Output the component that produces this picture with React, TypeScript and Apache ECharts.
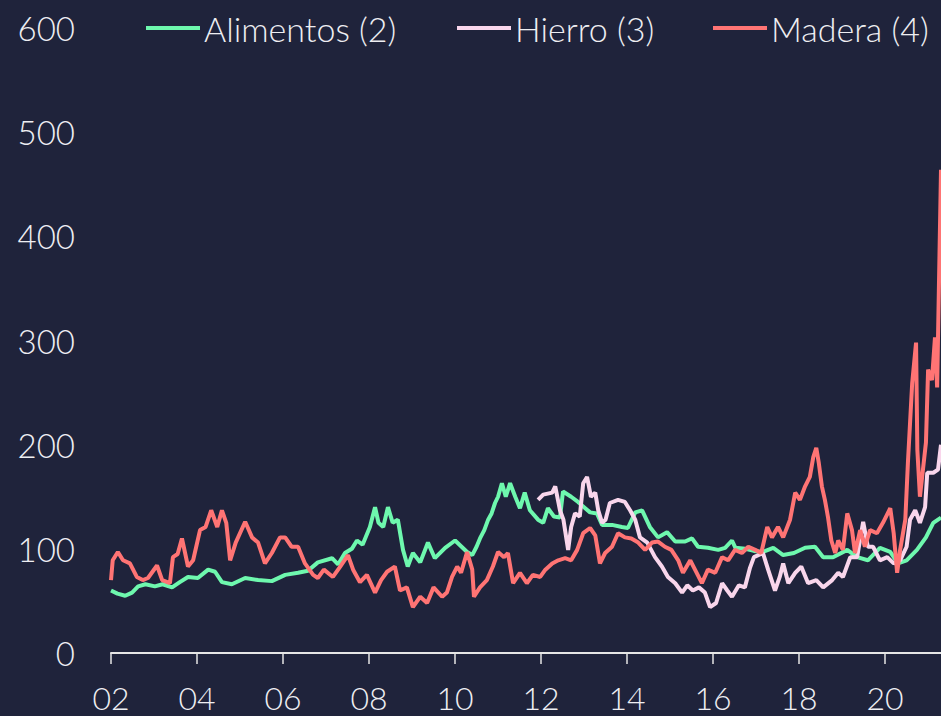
import React, { useEffect, useRef } from "react";
import * as echarts from "echarts";

const yearTicks = [2002, 2004, 2006, 2008, 2010, 2012, 2014, 2016, 2018, 2020];
const seriesNames = ["Alimentos (2)", "Hierro (3)", "Madera (4)"];

const alimentos: [number, number][] = [
  [2002.0, 60], [2002.15, 57], [2002.33, 55], [2002.49, 58], [2002.63, 64], [2002.8, 66], [2003.02, 64],
  [2003.2, 66], [2003.42, 63], [2003.6, 68], [2003.79, 73], [2004.02, 72], [2004.26, 80], [2004.42, 78],
  [2004.58, 68], [2004.81, 66], [2005.12, 72], [2005.42, 70], [2005.74, 69], [2006.05, 75], [2006.35, 77],
  [2006.58, 79], [2006.81, 87], [2007.14, 91], [2007.28, 85], [2007.44, 96], [2007.6, 100], [2007.72, 108], [2007.85, 104],
  [2008.02, 121], [2008.14, 140], [2008.22, 125], [2008.33, 121], [2008.44, 140], [2008.55, 125],
  [2008.67, 128], [2008.79, 99], [2008.9, 83], [2009.02, 96], [2009.19, 87], [2009.37, 106], [2009.53, 91],
  [2009.77, 101], [2010.0, 108], [2010.28, 97], [2010.4, 94], [2010.5, 102], [2010.58, 110], [2010.68, 118],
  [2010.77, 128], [2010.85, 134], [2010.93, 144], [2011.0, 150],
  [2011.09, 163], [2011.18, 150], [2011.28, 163], [2011.4, 150], [2011.51, 139], [2011.62, 154],
  [2011.74, 137], [2011.93, 128], [2012.05, 125], [2012.16, 139], [2012.3, 131], [2012.44, 130],
  [2012.51, 155], [2012.7, 150], [2012.86, 145], [2013.0, 140], [2013.14, 135], [2013.3, 134],
  [2013.42, 123], [2013.65, 123], [2013.88, 121], [2014.02, 120], [2014.19, 135], [2014.35, 137],
  [2014.53, 121], [2014.72, 111], [2014.93, 116], [2015.12, 107], [2015.35, 107], [2015.51, 110],
  [2015.65, 102], [2015.88, 101], [2016.12, 99], [2016.28, 101], [2016.44, 108], [2016.52, 101],
  [2016.75, 100], [2016.95, 98], [2017.16, 97], [2017.4, 101], [2017.63, 94], [2017.88, 96], [2018.14, 101],
  [2018.37, 102], [2018.56, 92], [2018.79, 92], [2019.12, 99], [2019.35, 92], [2019.6, 89], [2019.88, 101],
  [2020.12, 97], [2020.3, 86], [2020.5, 89], [2020.74, 99], [2020.95, 111], [2021.12, 125], [2021.3, 130],
];

const hierro: [number, number][] = [
  [2011.93, 147], [2012.05, 152], [2012.26, 154], [2012.33, 160], [2012.44, 137], [2012.52, 128],
  [2012.63, 99], [2012.7, 121], [2012.79, 134], [2012.9, 131], [2012.98, 163], [2013.07, 169],
  [2013.16, 150], [2013.26, 154], [2013.33, 137], [2013.42, 125], [2013.5, 128], [2013.6, 144],
  [2013.79, 147], [2013.95, 145], [2014.07, 137], [2014.19, 128], [2014.3, 111], [2014.47, 106],
  [2014.65, 92], [2014.81, 83], [2014.95, 73], [2015.12, 67], [2015.28, 58], [2015.4, 65], [2015.53, 60],
  [2015.67, 63], [2015.81, 58], [2015.93, 44], [2016.07, 48], [2016.21, 67], [2016.33, 60], [2016.44, 54],
  [2016.6, 65], [2016.74, 63], [2016.86, 82], [2016.95, 92], [2017.16, 96], [2017.28, 80], [2017.44, 60],
  [2017.55, 73], [2017.63, 86], [2017.75, 67], [2017.91, 77], [2018.05, 83], [2018.21, 67], [2018.4, 70],
  [2018.56, 63], [2018.77, 70], [2018.91, 77], [2019.02, 73], [2019.19, 92], [2019.35, 92], [2019.49, 126],
  [2019.6, 102], [2019.72, 102], [2019.88, 89], [2020.05, 92], [2020.2, 86], [2020.35, 89], [2020.5, 102],
  [2020.58, 128], [2020.7, 137], [2020.81, 125], [2020.93, 140], [2020.98, 173], [2021.12, 173],
  [2021.23, 176], [2021.3, 200],
];

const madera: [number, number][] = [
  [2002.0, 70], [2002.04, 89], [2002.16, 97], [2002.28, 89], [2002.44, 86], [2002.6, 73], [2002.74, 70],
  [2002.86, 72], [2003.07, 84], [2003.19, 70], [2003.37, 67], [2003.44, 92], [2003.55, 95], [2003.65, 110],
  [2003.79, 83], [2003.91, 89], [2004.07, 118], [2004.2, 121], [2004.33, 137], [2004.47, 121], [2004.58, 137],
  [2004.68, 125], [2004.77, 89], [2004.9, 106], [2005.12, 126], [2005.28, 111], [2005.42, 106], [2005.58, 86],
  [2005.74, 96], [2005.93, 111], [2006.05, 111], [2006.2, 102], [2006.35, 102], [2006.51, 86], [2006.7, 75],
  [2006.81, 72], [2006.95, 80], [2007.16, 73], [2007.33, 83], [2007.51, 94], [2007.63, 80], [2007.79, 68],
  [2007.95, 75], [2008.14, 58], [2008.28, 70], [2008.42, 78], [2008.6, 83], [2008.72, 60], [2008.88, 63],
  [2009.02, 44], [2009.19, 54], [2009.35, 48], [2009.5, 63], [2009.7, 54], [2009.81, 58], [2009.93, 73],
  [2010.05, 83], [2010.14, 77], [2010.28, 97], [2010.4, 80], [2010.44, 54], [2010.58, 63], [2010.74, 70],
  [2010.88, 83], [2011.0, 97], [2011.14, 92], [2011.23, 96], [2011.35, 67], [2011.51, 77], [2011.67, 67],
  [2011.81, 75], [2011.98, 73], [2012.1, 80], [2012.26, 86], [2012.4, 89], [2012.56, 91], [2012.7, 89],
  [2012.84, 99], [2012.98, 115], [2013.14, 120], [2013.26, 113], [2013.37, 86], [2013.49, 96], [2013.65, 102],
  [2013.79, 115], [2013.95, 111], [2014.1, 110], [2014.26, 106], [2014.42, 99], [2014.58, 106], [2014.72, 107],
  [2014.88, 102], [2015.03, 99], [2015.19, 89], [2015.3, 77], [2015.47, 89], [2015.58, 80], [2015.74, 67],
  [2015.88, 80], [2016.05, 77], [2016.21, 92], [2016.35, 89], [2016.51, 99], [2016.67, 96], [2016.82, 102],
  [2016.98, 99], [2017.12, 96], [2017.26, 121], [2017.37, 111], [2017.51, 121], [2017.63, 111], [2017.79, 128],
  [2017.91, 154], [2018.02, 147], [2018.14, 160], [2018.25, 169], [2018.33, 188], [2018.4, 197], [2018.46, 182],
  [2018.53, 160], [2018.6, 147], [2018.67, 131], [2018.75, 108], [2018.84, 96], [2018.91, 108], [2019.02, 99],
  [2019.12, 134], [2019.23, 118], [2019.3, 96], [2019.42, 118], [2019.53, 102], [2019.65, 118], [2019.81, 115],
  [2019.95, 125], [2020.12, 139], [2020.2, 115], [2020.28, 77], [2020.35, 99], [2020.47, 128], [2020.53, 182],
  [2020.63, 259], [2020.72, 298], [2020.75, 195], [2020.81, 150], [2020.88, 176], [2020.95, 202], [2021.0, 272],
  [2021.09, 262], [2021.16, 303], [2021.21, 255], [2021.25, 348], [2021.3, 464],
];

const COLORS = ["#6EF8AE", "#F9D6EC", "#FF7474"];
const BG = "#1F233B";
const TEXT = "#EEEEF2";
const FONT = "Lato";

export default function App() {
  const ref = useRef<HTMLDivElement>(null);
  useEffect(() => {
    if (!ref.current) return;
    const chart = echarts.init(ref.current, undefined, { renderer: "svg" });
    const legendBase = {
      icon: "rect",
      itemWidth: 54,
      itemHeight: 4,
      top: 11,
      padding: 0,
      itemGap: 0,
      textStyle: { color: TEXT, fontSize: 34, fontFamily: FONT, fontWeight: 300, lineHeight: 34, padding: [0, 0, 0, -1] },
    };
    const legendLefts = [146, 457, 713];
    chart.setOption({
      animation: false,
      backgroundColor: BG,
      textStyle: { fontFamily: FONT },
      legend: seriesNames.map((n, i) => ({ ...legendBase, left: legendLefts[i], data: [n] })),
      grid: { left: 111, right: 0, top: 28, bottom: 63 },
      xAxis: {
        type: "value",
        min: 2002,
        max: 2021.3,
        interval: 2,
        splitLine: { show: false },
        axisLine: { show: true, lineStyle: { color: "#E6E6E6", width: 2 } },
        axisTick: { show: true, length: 11, lineStyle: { color: "#E6E6E6", width: 1.5 }, customValues: yearTicks },
        axisLabel: {
          customValues: yearTicks,
          color: TEXT,
          fontSize: 32,
          lineHeight: 26,
          fontFamily: FONT,
          fontWeight: 300,
          margin: 31,
          formatter: (v: number) => String(Math.round(v) % 100).padStart(2, "0"),
        },
      },
      yAxis: {
        type: "value",
        min: 0,
        max: 600,
        interval: 100,
        splitLine: { show: false },
        axisLine: { show: false },
        axisTick: { show: false },
        axisLabel: { color: TEXT, fontSize: 33, fontFamily: FONT, fontWeight: 300, margin: 36 },
      },
      series: [
        { name: seriesNames[0], data: alimentos },
        { name: seriesNames[1], data: hierro },
        { name: seriesNames[2], data: madera },
      ].map((s, i) => ({
        ...s,
        type: "line",
        showSymbol: false,
        symbol: "none",
        color: COLORS[i],
        lineStyle: { color: COLORS[i], width: 4 },
      })),
    });
    return () => chart.dispose();
  }, []);
  return <div ref={ref} style={{ position: "fixed", left: 0, top: 0, width: 941, height: 716 }} />;
}
